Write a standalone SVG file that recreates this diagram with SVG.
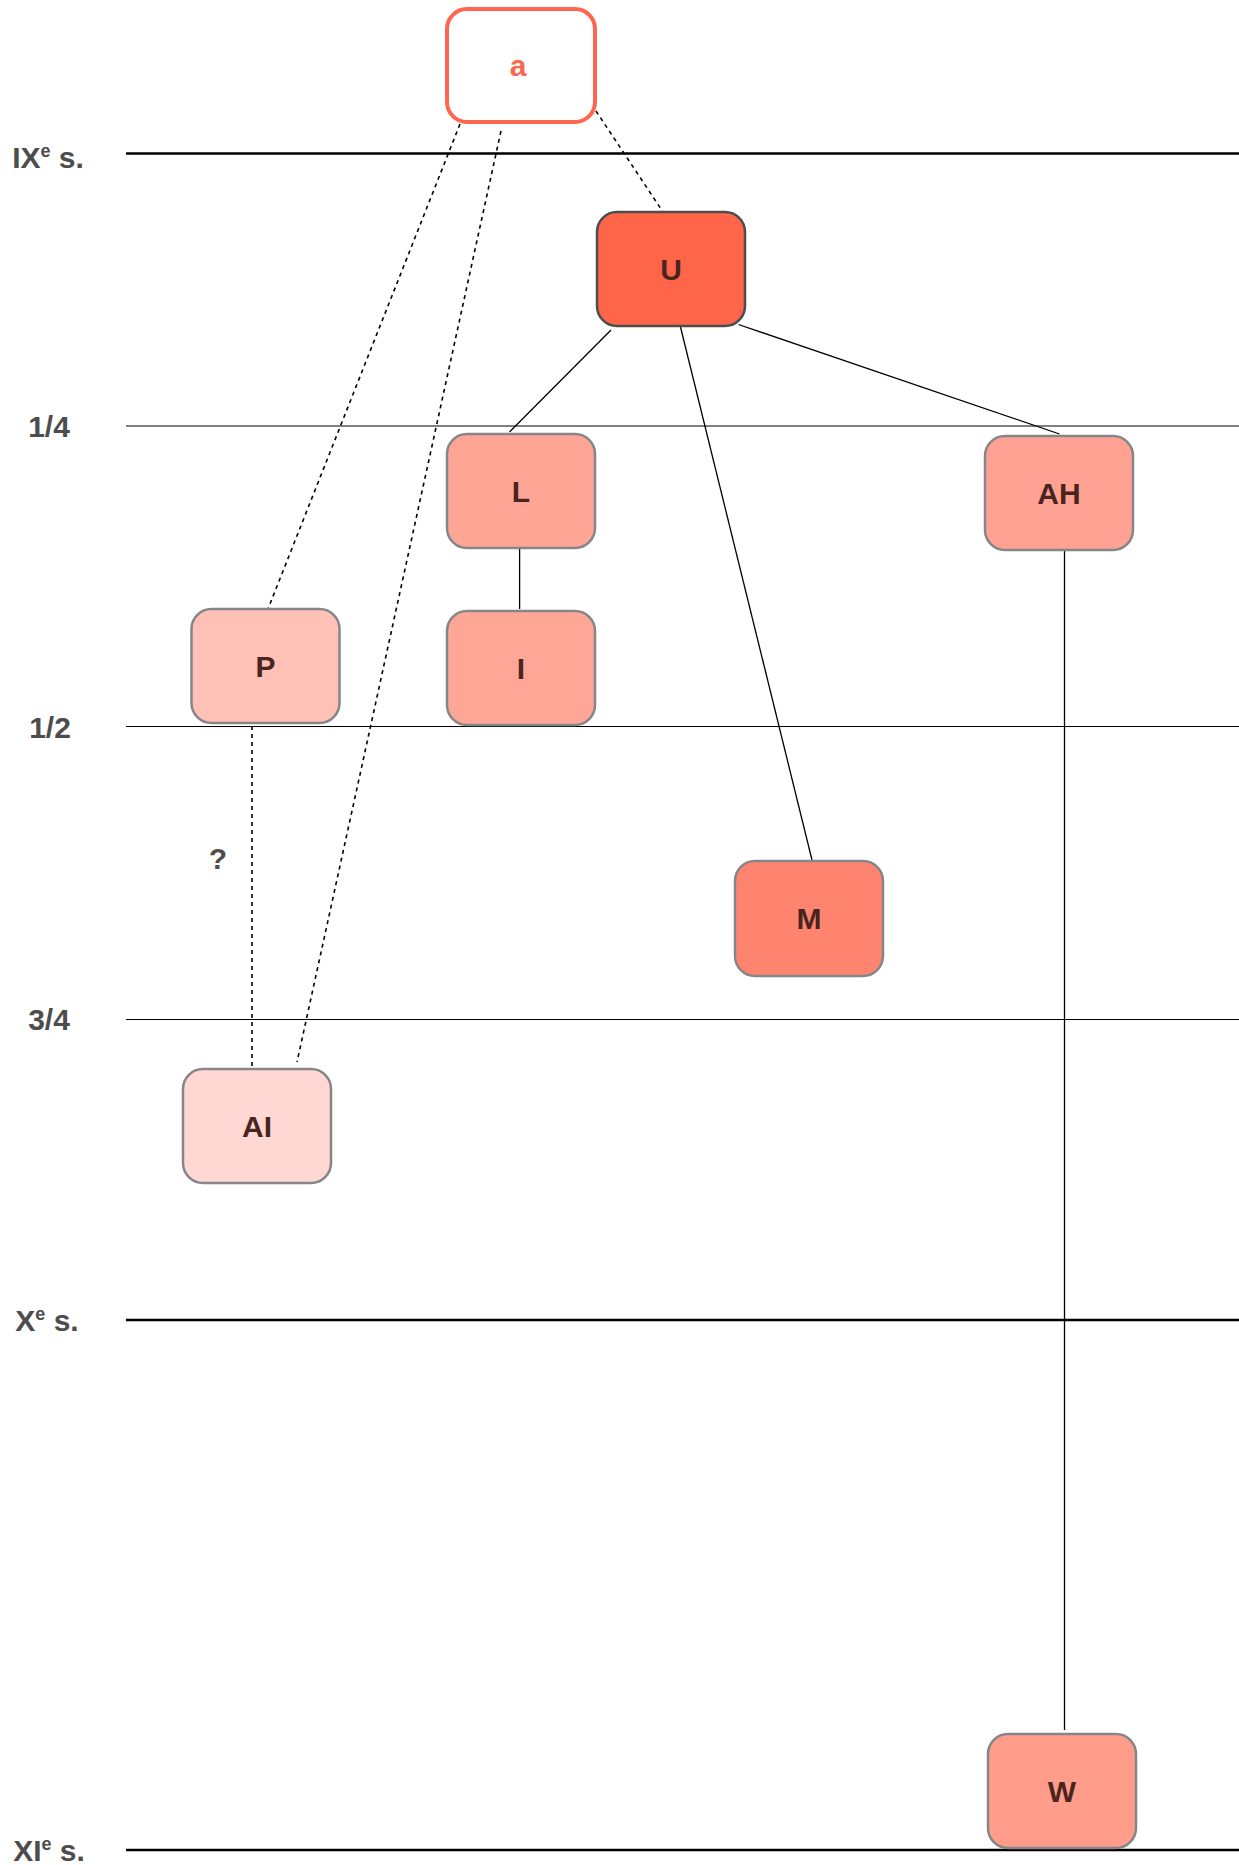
<svg xmlns="http://www.w3.org/2000/svg" width="1239" height="1865" viewBox="0 0 1239 1865">
<style>
.lbl{font-family:"Liberation Sans",Arial,sans-serif;font-weight:bold;font-size:30px;fill:#4d4d4d;text-anchor:middle}
.nt{font-family:"Liberation Sans",Arial,sans-serif;font-weight:bold;font-size:30px;fill:#4a2520;text-anchor:middle}
.box{stroke:#86868a;stroke-width:2.5}
.thick{stroke:#000;stroke-width:2.6}
.thin{stroke:#000;stroke-width:1.2}
.c{stroke:#000;stroke-width:1.3;fill:none}
.d{stroke:#000;stroke-width:1.6;fill:none;stroke-dasharray:4 4}
</style>
<rect width="1239" height="1865" fill="#fff"/>
<g id="timeline">
<line class="thick" x1="126" y1="153.5" x2="1239" y2="153.5"/>
<line class="thin" x1="126" y1="426" x2="1239" y2="426"/>
<line class="thin" x1="126" y1="726.5" x2="1239" y2="726.5"/>
<line class="thin" x1="126" y1="1019.5" x2="1239" y2="1019.5"/>
<line class="thick" x1="126" y1="1320" x2="1239" y2="1320"/>
<line class="thick" x1="126" y1="1850" x2="1239" y2="1850"/>
<text class="lbl" x="48" y="168">IX<tspan font-size="18" dy="-11">e</tspan><tspan dy="11"> s.</tspan></text>
<text class="lbl" x="49" y="437">1/4</text>
<text class="lbl" x="50" y="738">1/2</text>
<text class="lbl" x="49" y="1030">3/4</text>
<text class="lbl" x="47" y="1331">X<tspan font-size="18" dy="-11">e</tspan><tspan dy="11"> s.</tspan></text>
<text class="lbl" x="49" y="1861">XI<tspan font-size="18" dy="-11">e</tspan><tspan dy="11"> s.</tspan></text>
<text class="lbl" x="218" y="869">?</text>
</g>
<g id="connectors">
<line class="d" x1="596" y1="111" x2="663" y2="212"/>
<line class="d" x1="460" y1="124" x2="268" y2="609"/>
<line class="d" x1="501" y1="131" x2="297" y2="1062"/>
<line class="d" x1="252" y1="726" x2="252" y2="1066"/>
<line class="c" x1="611" y1="330" x2="509.5" y2="432"/>
<line class="c" x1="680.5" y1="327" x2="812" y2="860"/>
<line class="c" x1="738.5" y1="324.5" x2="1059.5" y2="434"/>
<line class="c" x1="519.6" y1="548" x2="519.6" y2="609"/>
<line class="c" x1="1064.5" y1="550" x2="1064.5" y2="1730"/>
</g>
<g id="node-a">
<rect x="447" y="9" width="148" height="113" rx="20" fill="#fff" stroke="#ff6650" stroke-width="4"/>
<text class="nt" x="518" y="76" fill="#ff6650" style="fill:#ff6650">a</text>
</g>
<g id="node-U">
<rect x="597" y="212" width="148" height="114" rx="20" fill="#ff6549" stroke="#4d4d4d" stroke-width="2.5"/>
<text class="nt" x="671" y="280">U</text>
</g>
<g id="node-L">
<rect class="box" x="447" y="434" width="148" height="114" rx="20" fill="#ffa596"/>
<text class="nt" x="521" y="502">L</text>
</g>
<g id="node-AH">
<rect class="box" x="985" y="436" width="148" height="114" rx="20" fill="#ffa293"/>
<text class="nt" x="1059" y="504">AH</text>
</g>
<g id="node-P">
<rect class="box" x="191.5" y="609" width="148" height="114" rx="20" fill="#ffc1b5"/>
<text class="nt" x="265.5" y="677">P</text>
</g>
<g id="node-I">
<rect class="box" x="447" y="611" width="148" height="114" rx="20" fill="#ffa697"/>
<text class="nt" x="521" y="679">I</text>
</g>
<g id="node-M">
<rect class="box" x="735" y="861" width="148" height="115" rx="20" fill="#ff8470"/>
<text class="nt" x="809" y="929">M</text>
</g>
<g id="node-AI">
<rect class="box" x="183" y="1069" width="148" height="114" rx="20" fill="#ffd8d3"/>
<text class="nt" x="257" y="1137">AI</text>
</g>
<g id="node-W">
<rect class="box" x="988" y="1734" width="148" height="114" rx="20" fill="#ff9c8a"/>
<text class="nt" x="1062" y="1802">W</text>
</g>
</svg>
